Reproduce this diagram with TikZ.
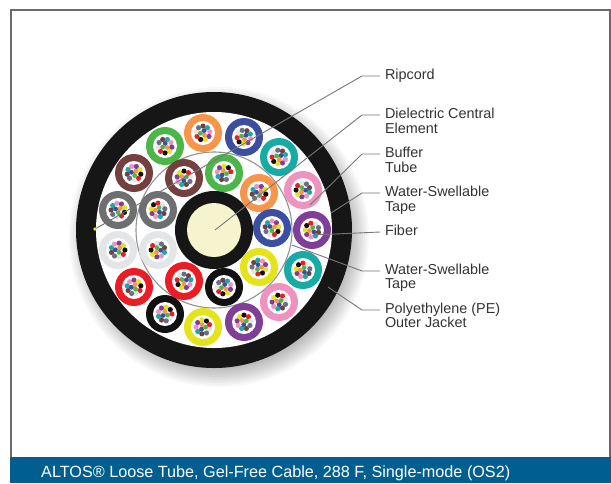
\documentclass[tikz,border=0pt]{standalone}
\usepackage{fontspec}
\setmainfont{Liberation Sans}
\definecolor{cgreen}{HTML}{4CB748}
\definecolor{corange}{HTML}{F7964A}
\definecolor{cbrown}{HTML}{74403F}
\definecolor{cgray}{HTML}{6E6F71}
\definecolor{cblue}{HTML}{3A4EA2}
\definecolor{cteal}{HTML}{16ABA5}
\definecolor{cpink}{HTML}{EF92BF}
\definecolor{cpurple}{HTML}{7F3F98}
\definecolor{clight}{HTML}{E4E5E8}
\definecolor{cred}{HTML}{EC1C24}
\definecolor{cblack}{HTML}{111111}
\definecolor{cyellow}{HTML}{E5E319}
\definecolor{cslate}{HTML}{6A6F86}
\definecolor{jacket}{HTML}{161616}
\definecolor{cream}{HTML}{F6F4CE}
\definecolor{leader}{HTML}{777777}
\definecolor{labeltext}{HTML}{333333}
\definecolor{barblue}{HTML}{005F8F}
\definecolor{framegray}{HTML}{6A6A6A}
\tikzset{
  leaderline/.style={draw=leader,line width=0.9pt},
  labeltxt/.style={anchor=north west,inner sep=0pt,outer sep=0pt,align=left,text=labeltext,font=\fontsize{14.4}{14.3}\selectfont},
  captiontxt/.style={anchor=base west,inner sep=0pt,text=white,font=\fontsize{16.2}{18}\selectfont},
}
% centre x, centre y, colour, rotation
\newcommand{\tubeat}[4]{%
  \fill[#3] (#1,#2) circle (19);
  \fill[white] (#1,#2) circle (12);
  \foreach \cc [count=\ii from 0] in {cbrown,cteal,cpink,cpurple,cyellow,cblack,cred,clight,cslate}{
    \fill[\cc] ({#1+6.9*cos(#4+40*\ii)},{#2+6.9*sin(#4+40*\ii)}) circle (2.6);
  }
  \foreach \cc [count=\ii from 0] in {cblue,corange,cgreen}{
    \fill[\cc] ({#1+2.6*cos(#4+25+120*\ii)},{#2+2.6*sin(#4+25+120*\ii)}) circle (2.4);
  }
}
\begin{document}
\begin{tikzpicture}[x=1pt,y=-1pt]
\useasboundingbox (0,0) rectangle (611,483);
\fill[white] (0,0) rectangle (611,483);
% frame and caption bar
\draw[framegray,line width=1.6pt] (10.8,457) -- (10.8,10.2) -- (609.8,10.2) -- (609.8,457);
\fill[barblue] (10,457) rectangle (611,483);
\node[captiontxt] (caption) at (41,477.5) {ALTOS® Loose Tube, Gel-Free Cable, 288 F, Single-mode (OS2)};
% soft shadow
\foreach \r in {150,148,...,132}{
  \fill[black,opacity=0.028] (219,237) circle (\r);
}
% jacket
\fill[jacket] (214,230) circle (138);
\fill[white] (214,230) circle (118);
\draw[gray!85,line width=1.1pt] (214,230) circle (78);
% tubes
\tubeat{165}{146}{cgreen}{-110}
\tubeat{203}{133}{corange}{-90}
\tubeat{134}{173}{cbrown}{170}
\tubeat{184}{178}{cbrown}{70}
\tubeat{118}{210}{cgray}{180}
\tubeat{158}{210}{cgray}{30}
\tubeat{244}{137}{cblue}{-65}
\tubeat{279}{157}{cteal}{-60}
\tubeat{224}{173}{cgreen}{110}
\tubeat{259}{193}{corange}{170}
\tubeat{303}{190}{cpink}{-20}
\tubeat{272}{228}{cblue}{-170}
\tubeat{312}{230}{cpurple}{20}
\tubeat{118}{250}{clight}{160}
\tubeat{158}{250}{clight}{-20}
\tubeat{134}{287}{cred}{150}
\tubeat{184}{281}{cred}{-50}
\tubeat{165}{314}{cblack}{120}
\tubeat{203}{327}{cyellow}{100}
\tubeat{224}{287}{cblack}{-100}
\tubeat{259}{267}{cyellow}{-140}
\tubeat{303}{270}{cteal}{30}
\tubeat{279}{302}{cpink}{60}
\tubeat{244}{322}{cpurple}{70}
% central element
\fill[jacket] (214,230) circle (39);
\fill[cream] (214,230) circle (27);
% labels
\node[labeltxt] (ripcord) at (385,69.3) {Ripcord};
\node[labeltxt] (dielectric) at (385,108.3) {Dielectric Central\\Element};
\node[labeltxt] (buffer) at (385,147.3) {Buffer\\Tube};
\node[labeltxt] (tapea) at (385,186.3) {Water-Swellable\\Tape};
\node[labeltxt] (fiber) at (385,225.3) {Fiber};
\node[labeltxt] (tapeb) at (385,264) {Water-Swellable\\Tape};
\node[labeltxt] (jacketlbl) at (385,303) {Polyethylene (PE)\\Outer Jacket};
% leader anchors
\coordinate (ripA) at (380,76);
\coordinate (ripB) at (362,76);
\coordinate (ripC) at (95,229);
\coordinate (dieA) at (380,115);
\coordinate (dieB) at (362,115);
\coordinate (dieC) at (215,230);
\coordinate (bufA) at (380,154);
\coordinate (bufB) at (362,154);
\coordinate (bufC) at (310,205);
\coordinate (taaA) at (380,193);
\coordinate (taaB) at (362,193);
\coordinate (taaC) at (331,213);
\coordinate (fibA) at (380,232);
\coordinate (fibC) at (313,235);
\coordinate (tabA) at (380,271);
\coordinate (tabB) at (362,271);
\coordinate (tabC) at (292,245);
\coordinate (jacA) at (380,310);
\coordinate (jacB) at (362,310);
\coordinate (jacC) at (328,287);
% leaders
\draw[leaderline] (ripA) -- (ripB) -- (ripC);
\fill[cyellow] (ripC) circle (1.8);
\draw[leaderline] (dieA) -- (dieB) -- (dieC);
\draw[leaderline] (bufA) -- (bufB) -- (bufC);
\draw[leaderline] (taaA) -- (taaB) -- (taaC);
\draw[leaderline] (fibA) -- (fibC);
\draw[leaderline] (tabA) -- (tabB) -- (tabC);
\draw[leaderline] (jacA) -- (jacB) -- (jacC);
\end{tikzpicture}
\end{document}
